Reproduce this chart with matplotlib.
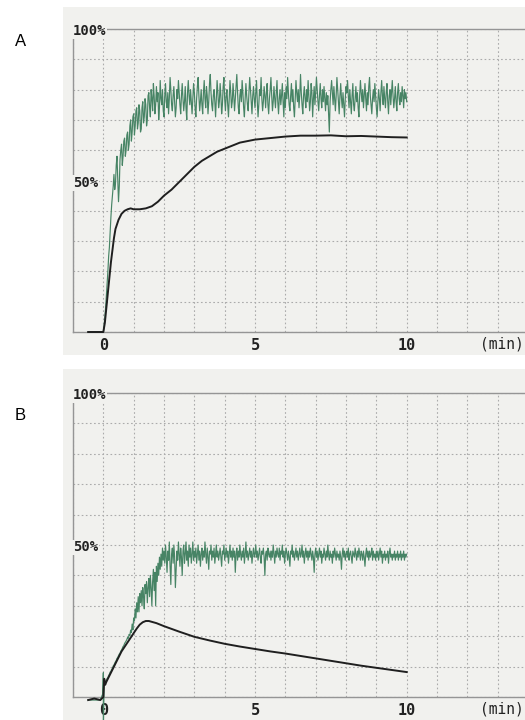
#!/usr/bin/env python3
"""
Aggregometer traces (light transmission, %) for two samples, A and B.
"""

import matplotlib
matplotlib.use('Agg')
import matplotlib.pyplot as plt
from matplotlib.patches import Rectangle
from matplotlib.ticker import MultipleLocator
import numpy as np

# ---- data -------------------------------------------------------------
# black traces (smooth), read at irregular times (min)
a_black_t = [-0.5, -0.1, 0, 0.05, 0.1, 0.15, 0.2, 0.25, 0.3, 0.35, 0.4, 0.5, 0.6,
             0.7, 0.8, 0.9, 1.0, 1.2, 1.4, 1.6, 1.8, 2.0, 2.25, 2.5, 2.75, 3.0,
             3.25, 3.5, 3.75, 4.0, 4.25, 4.5, 4.75, 5.0, 5.5, 6.0, 6.5, 7.0, 7.5,
             8.0, 8.5, 9.0, 9.5, 10.0]
a_black = [0, 0, 0, 3, 8, 13, 18, 23, 27, 31, 34, 37, 39,
           40, 40.5, 40.8, 40.5, 40.5, 40.8, 41.5, 43, 45, 47, 49.5, 52, 54.5,
           56.5, 58, 59.5, 60.5, 61.5, 62.5, 63, 63.5, 64, 64.5, 64.8, 64.8, 64.9,
           64.6, 64.7, 64.5, 64.3, 64.2]

b_black_t = [-0.5, -0.3, -0.1, 0, 0.03, 0.06, 0.1, 0.2, 0.3, 0.4, 0.5, 0.6, 0.7,
             0.8, 0.9, 1.0, 1.1, 1.2, 1.3, 1.4, 1.5, 1.75, 2.0, 2.5, 3.0, 3.5,
             4.0, 4.5, 5.0, 5.5, 6.0, 6.5, 7.0, 7.5, 8.0, 8.5, 9.0, 9.5, 10.0]
b_black = [-1, -0.5, -1, 0, 6, 4, 5, 7, 9, 11, 13, 15, 16.5,
           18, 19.5, 21, 22.5, 23.8, 24.6, 25, 25, 24.3, 23.3, 21.5, 19.8, 18.6,
           17.5, 16.6, 15.8, 15, 14.3, 13.5, 12.7, 11.9, 11.1, 10.3, 9.6, 8.9, 8.2]

# green traces (noisy), sampled every 0.025 min from 0 to 10 min
green_t = np.linspace(0, 10, 401)

a_green = [
    # 0 - 1.5 min
    0, 2, 5, 8, 12, 16, 20, 25, 28, 33,
    38, 42, 45, 48, 52, 47, 49, 55, 58, 50,
    43, 48, 57, 60, 62, 55, 58, 63, 64, 58,
    60, 65, 66, 60, 62, 68, 70, 63, 66, 71,
    72, 65, 68, 73, 74, 67, 69, 75, 73, 66,
    67, 74, 76, 69, 71, 77, 75, 68, 70, 78,
    79,
    # 1.525 - 10 min
    74, 71, 80, 77, 73, 82, 78, 72, 75, 81,
    76, 79, 70, 74, 83, 77, 75, 80, 73, 71,
    78, 82, 76, 74, 79, 72, 77, 84, 80, 75,
    73, 78, 81, 76, 71, 74, 80, 77, 83, 79,
    75, 72, 78, 82, 77, 73, 76, 81, 74, 70,
    79, 83, 78, 75, 80, 76, 72, 77, 82, 79,
    74, 71, 77, 81, 84, 78, 73, 76, 80, 75,
    72, 79, 83, 77, 74, 81, 78, 72, 76, 82,
    85, 79, 75, 73, 78, 80, 76, 71, 77, 83,
    79, 74, 76, 82, 78, 72, 75, 81, 84, 77,
    73, 78, 80, 75, 71, 77, 83, 79, 74, 76,
    82, 78, 73, 77, 81, 85, 79, 74, 72, 78,
    80, 76, 83, 79, 74, 71, 77, 82, 78, 75,
    73, 79, 84, 80, 76, 72, 78, 81, 77, 74,
    79, 83, 76, 71, 75, 80, 78, 84, 77, 73,
    76, 81, 78, 74, 79, 82, 75, 72, 77, 80,
    84, 78, 73, 76, 81, 77, 74, 79, 83, 76,
    72, 77, 80, 75, 78, 82, 76, 71, 79, 74,
    81, 77, 84, 79, 75, 73, 78, 82, 76, 80,
    74, 71, 77, 83, 79, 76, 80, 74, 78, 85,
    79, 75, 72, 78, 81, 77, 74, 80, 76, 83,
    78, 73, 76, 82, 79, 71, 77, 81, 75, 79,
    84, 80, 76, 73, 78, 82, 77, 74, 80, 76,
    81, 77, 73, 79, 75, 78, 72, 66, 76, 80,
    83, 79, 75, 81, 77, 73, 78, 84, 80, 76,
    72, 78, 82, 77, 74, 79, 75, 71, 77, 81,
    79, 83, 78, 74, 80, 76, 72, 78, 82, 75,
    73, 77, 81, 76, 79, 74, 71, 78, 83, 79,
    76, 80, 74, 78, 82, 77, 73, 79, 75, 81,
    84, 78, 75, 72, 77, 80, 76, 82, 78, 74,
    71, 76, 80, 77, 73, 79, 83, 78, 75, 81,
    77, 74, 79, 82, 76, 72, 78, 80, 75, 79,
    83, 78, 74, 77, 81, 76, 73, 79, 82, 77,
    75, 79, 76, 81, 78, 74, 80, 77, 79, 76,
]
a_green_pre_t = [-0.5, -0.1]
a_green_pre = [0, 0]

b_green = [
    -12,
    # 0.025 - 1.0 min (runs on top of the black trace)
    4, 4.6, 5.1, 5.4, 6.1, 6.4, 7.1, 7.5, 8.2, 8.4,
    9.1, 9.4, 10.2, 10.5, 11.1, 11.6, 12.0, 12.7, 13.0, 13.6,
    14.1, 14.4, 15.1, 15.4, 16.0, 16.6, 16.9, 17.6, 18.0, 18.4,
    18.9, 19.6, 19.3, 20.6, 20.2, 22.0, 21.2, 24.0, 22.1, 26.0,
    # 1.025 - 2.0 min
    25, 29, 26, 31, 28, 33, 28, 34, 31, 35,
    30, 36, 33, 29, 37, 34, 38, 31, 36, 39,
    33, 40, 36, 30, 38, 42, 35, 41, 30, 43,
    38, 44, 40, 46, 42, 47, 43, 49, 45, 48,
    # 2.025 - 3.0 min
    44, 50, 46, 41, 48, 45, 51, 43, 37, 47,
    49, 44, 50, 46, 36, 42, 48, 45, 51, 47,
    43, 49, 46, 40, 48, 50, 44, 47, 51, 45,
    48, 43, 50, 46, 49, 44, 47, 51, 45, 48,
    # 3.025 - 10 min
    46, 49, 44, 47, 50, 45, 48, 43, 47, 49,
    45, 48, 46, 51, 47, 44, 49, 46, 42, 48,
    47, 50, 45, 48, 46, 49, 44, 47, 50, 46,
    48, 45, 47, 49, 46, 43, 48, 47, 50, 45,
    47, 49, 46, 48, 44, 47, 50, 46, 48, 45,
    49, 46, 48, 41, 47, 49, 45, 48, 46, 50,
    47, 45, 48, 46, 49, 44, 47, 51, 46, 48,
    45, 47, 49, 46, 48, 44, 47, 49, 46, 47,
    50, 46, 48, 45, 47, 49, 46, 44, 48, 47,
    49, 46, 40, 47, 48, 45, 49, 47, 46, 48,
    45, 48, 46, 50, 47, 44, 48, 46, 49, 47,
    46, 49, 45, 48, 47, 50, 46, 48, 44, 47,
    49, 47, 45, 48, 46, 43, 48, 47, 50, 46,
    48, 45, 47, 49, 46, 48, 45, 47, 49, 46,
    47, 50, 46, 48, 44, 47, 49, 46, 48, 45,
    48, 46, 49, 47, 45, 48, 46, 41, 47, 49,
    46, 48, 45, 47, 49, 46, 48, 44, 47, 46,
    49, 47, 45, 48, 46, 50, 47, 45, 48, 46,
    47, 44, 48, 46, 49, 47, 45, 48, 46, 47,
    45, 48, 46, 42, 47, 49, 46, 48, 45, 47,
    48, 46, 49, 45, 47, 48, 46, 44, 48, 47,
    46, 49, 47, 45, 48, 46, 49, 47, 45, 48,
    47, 45, 48, 46, 43, 47, 49, 46, 48, 45,
    48, 46, 47, 49, 45, 48, 46, 47, 45, 48,
    46, 48, 45, 47, 49, 46, 48, 44, 47, 46,
    48, 45, 47, 46, 48, 44, 47, 49, 46, 47,
    45, 47, 46, 48, 45, 47, 46, 48, 45, 47,
    46, 48, 45, 47, 46, 48, 45, 47, 46, 47,
]
b_green_pre_t = [-0.5, -0.1, -0.02, 0]
b_green_pre = [-1, -1, 1, 8]

x_ticks = [0, 5, 10]
x_tick_labels = ['0', '5', '10']

# ---- style ------------------------------------------------------------
PAPER = '#f1f1ee'
GRID = '#ababab'
SPINE = '#959595'
GREEN = '#478465'
BLACK = '#1f1f1f'
MONO = 'DejaVu Sans Mono'

W, H = 525, 720
fig = plt.figure(figsize=(W / 100, H / 100), dpi=100)
fig.patch.set_facecolor('white')


def px_rect(x0, y0, x1, y1):
    """Pixel box (top-left origin) -> figure fraction [l, b, w, h]."""
    return [x0 / W, 1 - y1 / H, (x1 - x0) / W, (y1 - y0) / H]


def draw_panel(axbox, paperbox, letter, letter_y, series):
    l, b, w, h = px_rect(*paperbox)
    fig.patches.append(Rectangle((l, b), w, h, transform=fig.transFigure,
                                 facecolor=PAPER, edgecolor='none', zorder=-10))
    ax = fig.add_axes(px_rect(*axbox))
    ax.set_facecolor('none')
    ax.set_xlim(-1, 13.9)
    ax.set_ylim(0, 100)

    ax.set_xticks(x_ticks)
    ax.set_xticklabels(x_tick_labels, family=MONO, fontsize=11, fontweight='bold',
                       color='#222222')
    ax.xaxis.set_minor_locator(MultipleLocator(1))
    ax.set_yticks(range(0, 101, 10))
    ax.set_yticklabels([])
    ax.tick_params(which='both', length=0, pad=4)
    ax.grid(True, which='both', color=GRID, linestyle=(0, (1.5, 2.2)), linewidth=0.8)

    for side in ['left', 'bottom', 'top']:
        ax.spines[side].set_color(SPINE)
        ax.spines[side].set_linewidth(1.0)
    ax.spines['right'].set_visible(False)

    for (tx, ty, color, lw) in series:
        ax.plot(tx, ty, color=color, linewidth=lw, clip_on=False, zorder=3)

    for val, lab in [(100, '100%'), (50, '50%')]:
        ax.text(-1, val - 0.8, lab, family=MONO, fontsize=10, fontweight='bold',
                ha='left', va='center', color='#222222', zorder=4,
                bbox=dict(facecolor=PAPER, edgecolor='none', pad=0.5))
    ax.text(0.998, -0.015, '(min)', family=MONO, fontsize=10.5, ha='right', va='top',
            color='#222222', transform=ax.transAxes)

    fig.text(15 / W, 1 - letter_y / H, letter, family='Liberation Sans',
             fontsize=12, ha='left', va='center')
    return ax


draw_panel((73, 29, 525, 332), (63, 7, 525, 355), 'A', 41, [
    (list(a_green_pre_t) + list(green_t), a_green_pre + a_green, GREEN, 0.85),
    (a_black_t, a_black, BLACK, 1.4),
])

draw_panel((73, 393, 525, 697), (63, 369, 525, 720), 'B', 416, [
    (list(b_green_pre_t) + list(green_t), b_green_pre + b_green, GREEN, 0.85),
    (b_black_t, b_black, BLACK, 1.4),
])

plt.savefig('out.png', dpi=100)
plt.close()
print("Chart saved: out.png")
